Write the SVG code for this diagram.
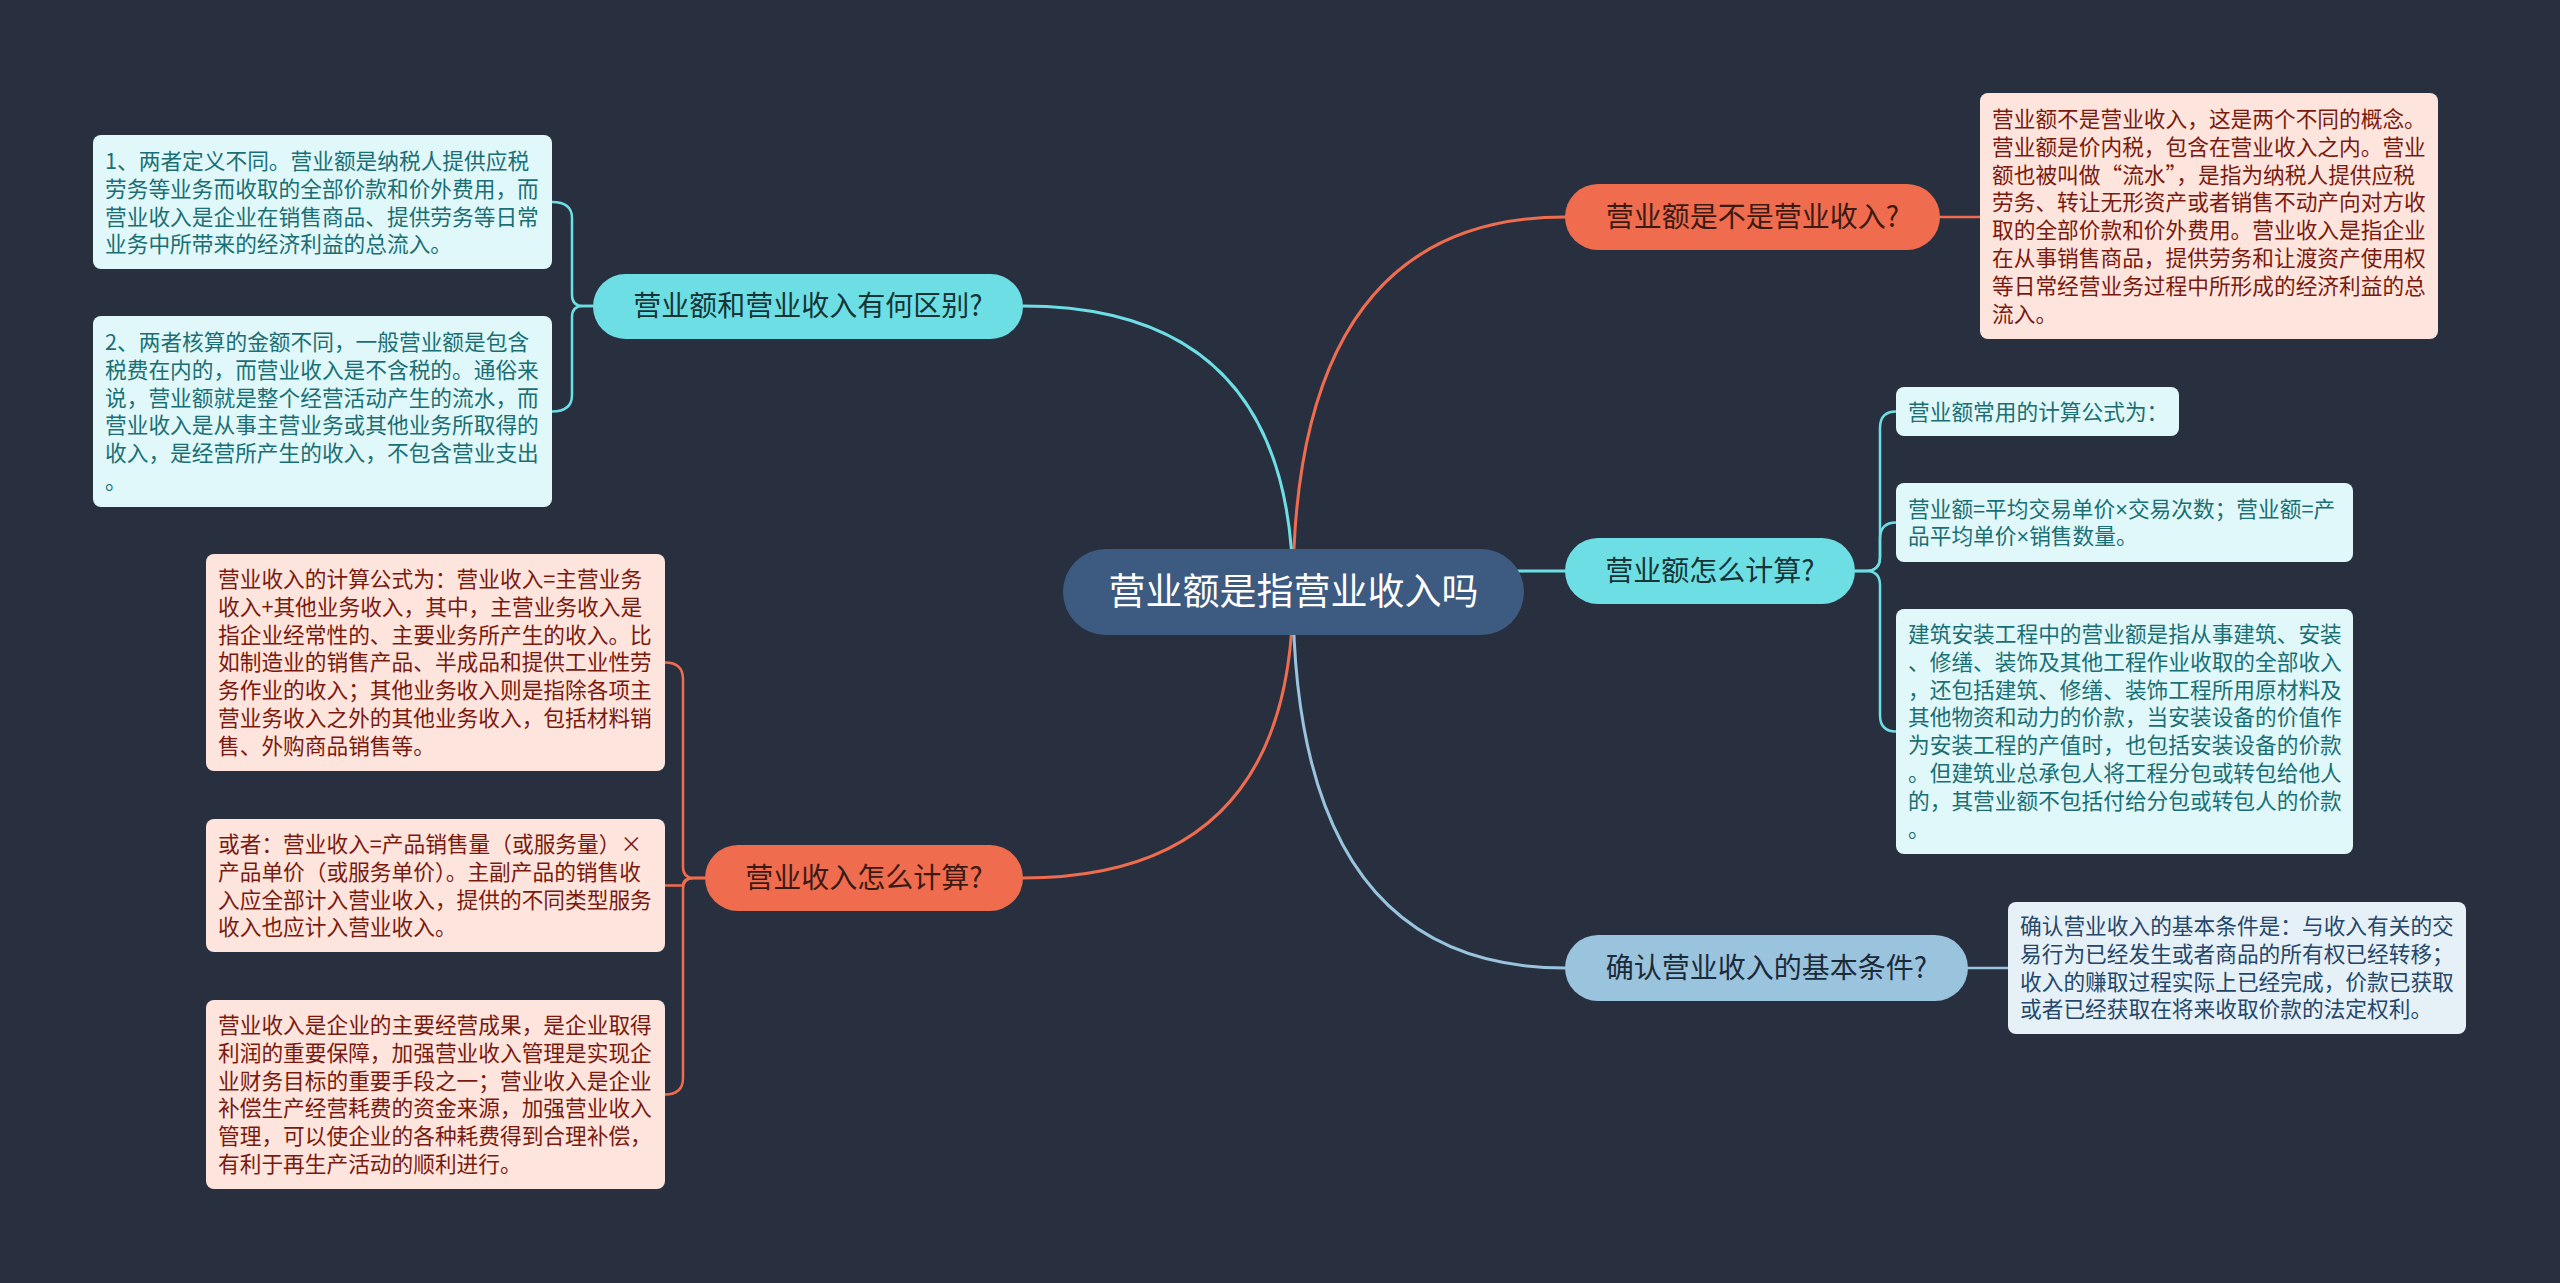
<svg xmlns="http://www.w3.org/2000/svg" width="2560" height="1283" viewBox="0 0 2560 1283">
<style>
text{font-family:"Noto Sans CJK SC","Noto Sans",sans-serif}
.conn{fill:none;stroke-width:3;stroke-linecap:round}
.sub{fill:none;stroke-width:2.5;stroke-linecap:round}
.o{stroke:#ef6c4e}.c{stroke:#6ddfe4}.b{stroke:#9ac3de}
.root rect{fill:#3d5a80}
.root text{fill:#ffffff;font-size:37px;text-anchor:middle}
.br text{font-size:28px;text-anchor:middle;fill:#1e2a2e}
.bo rect{fill:#ef6c4e}.bo text{fill:#3b1a14}
.bc rect{fill:#6ddfe4}.bc text{fill:#163436}
.bb rect{fill:#9ac3de}.bb text{fill:#1b2a38}
.lf text{font-size:21.7px}
.lo rect{fill:#fde4dd}.lo text{fill:#7a1a0e}
.lc rect{fill:#e0f8f9}.lc text{fill:#1a6f75}
.lb rect{fill:#e6f0f7}.lb text{fill:#24476a}
.x{font-family:"Liberation Sans",sans-serif}
</style>
<rect width="2560" height="1283" fill="#283040"/>
<g id="connectors">
<path class="conn o" d="M1293,592 Q1293,217 1565,217"/>
<path class="conn c" d="M1293,592 Q1293,306 1023,306"/>
<path class="conn c" d="M1480,571 H1565"/>
<path class="conn o" d="M1293,592 Q1293,878 1023,878"/>
<path class="conn b" d="M1293,592 Q1293,968 1565,968"/>
<path class="sub o" d="M1940,217 H1980"/>
<path class="sub b" d="M1968,968 H2008"/>
<path class="sub c" d="M1855,571 H1866 Q1880,571 1880,557 V428 Q1880,411.5 1896,411.5"/>
<path class="sub c" d="M1855,571 H1866 Q1880,571 1880,557 V539 Q1880,522.5 1896,522.5"/>
<path class="sub c" d="M1855,571 H1866 Q1880,571 1880,585 V715 Q1880,731.5 1896,731.5"/>
<path class="sub c" d="M593,306 H583 Q572,306 572,295 V218 Q572,202 552,202"/>
<path class="sub c" d="M593,306 H583 Q572,306 572,317 V395 Q572,411.5 552,411.5"/>
<path class="sub o" d="M705,878 H694 Q683,878 683,867 V679 Q683,662.5 665,662.5"/>
<path class="sub o" d="M705,878 H694 Q683,878 683,885.5 Q683,885.5 665,885.5"/>
<path class="sub o" d="M705,878 H694 Q683,878 683,889 V1078 Q683,1094.5 665,1094.5"/>
</g>
<g id="root" class="root">
<rect x="1063" y="549" width="461" height="86" rx="43"/>
<text x="1293.5" y="605">营业额是指营业收入吗</text>
</g>
<g id="b1" class="br bo">
<rect x="1565" y="184" width="375" height="66" rx="33"/>
<text x="1752.5" y="227">营业额是不是营业收入?</text>
</g>
<g id="b2" class="br bc">
<rect x="593" y="274" width="430" height="65" rx="32.5"/>
<text x="808" y="316">营业额和营业收入有何区别?</text>
</g>
<g id="b3" class="br bc">
<rect x="1565" y="538" width="290" height="66" rx="33"/>
<text x="1710" y="581">营业额怎么计算?</text>
</g>
<g id="b4" class="br bo">
<rect x="705" y="845" width="318" height="66" rx="33"/>
<text x="864" y="888">营业收入怎么计算?</text>
</g>
<g id="b5" class="br bb">
<rect x="1565" y="935" width="403" height="66" rx="33"/>
<text x="1766.5" y="978">确认营业收入的基本条件?</text>
</g>
<g id="leaf-l1" class="lf lc">
<rect x="93" y="135" width="459" height="134" rx="8"/>
<text x="105" y="169"><tspan x="105">1、两者定义不同。营业额是纳税人提供应税</tspan><tspan x="105" dy="27.8">劳务等业务而收取的全部价款和价外费用，而</tspan><tspan x="105" dy="27.8">营业收入是企业在销售商品、提供劳务等日常</tspan><tspan x="105" dy="27.8">业务中所带来的经济利益的总流入。</tspan></text>
</g>
<g id="leaf-l2" class="lf lc">
<rect x="93" y="316" width="459" height="191" rx="8"/>
<text x="105" y="350"><tspan x="105">2、两者核算的金额不同，一般营业额是包含</tspan><tspan x="105" dy="27.8">税费在内的，而营业收入是不含税的。通俗来</tspan><tspan x="105" dy="27.8">说，营业额就是整个经营活动产生的流水，而</tspan><tspan x="105" dy="27.8">营业收入是从事主营业务或其他业务所取得的</tspan><tspan x="105" dy="27.8">收入，是经营所产生的收入，不包含营业支出</tspan><tspan x="105" dy="27.8">。</tspan></text>
</g>
<g id="leaf-a" class="lf lo">
<rect x="206" y="554" width="459" height="217" rx="8"/>
<text x="218" y="587"><tspan x="218">营业收入的计算公式为：营业收入=主营业务</tspan><tspan x="218" dy="27.8">收入+其他业务收入，其中，主营业务收入是</tspan><tspan x="218" dy="27.8">指企业经常性的、主要业务所产生的收入。比</tspan><tspan x="218" dy="27.8">如制造业的销售产品、半成品和提供工业性劳</tspan><tspan x="218" dy="27.8">务作业的收入；其他业务收入则是指除各项主</tspan><tspan x="218" dy="27.8">营业务收入之外的其他业务收入，包括材料销</tspan><tspan x="218" dy="27.8">售、外购商品销售等。</tspan></text>
</g>
<g id="leaf-b" class="lf lo">
<rect x="206" y="819" width="459" height="133" rx="8"/>
<text x="218" y="852"><tspan x="218">或者：营业收入=产品销售量（或服务量）×</tspan><tspan x="218" dy="27.8">产品单价（或服务单价）。主副产品的销售收</tspan><tspan x="218" dy="27.8">入应全部计入营业收入，提供的不同类型服务</tspan><tspan x="218" dy="27.8">收入也应计入营业收入。</tspan></text>
</g>
<g id="leaf-c" class="lf lo">
<rect x="206" y="1000" width="459" height="189" rx="8"/>
<text x="218" y="1033"><tspan x="218">营业收入是企业的主要经营成果，是企业取得</tspan><tspan x="218" dy="27.8">利润的重要保障，加强营业收入管理是实现企</tspan><tspan x="218" dy="27.8">业财务目标的重要手段之一；营业收入是企业</tspan><tspan x="218" dy="27.8">补偿生产经营耗费的资金来源，加强营业收入</tspan><tspan x="218" dy="27.8">管理，可以使企业的各种耗费得到合理补偿，</tspan><tspan x="218" dy="27.8">有利于再生产活动的顺利进行。</tspan></text>
</g>
<g id="leaf-r0" class="lf lo">
<rect x="1980" y="93" width="458" height="246" rx="8"/>
<text x="1992" y="127"><tspan x="1992">营业额不是营业收入，这是两个不同的概念。</tspan><tspan x="1992" dy="27.8">营业额是价内税，包含在营业收入之内。营业</tspan><tspan x="1992" dy="27.8">额也被叫做“流水”，是指为纳税人提供应税</tspan><tspan x="1992" dy="27.8">劳务、转让无形资产或者销售不动产向对方收</tspan><tspan x="1992" dy="27.8">取的全部价款和价外费用。营业收入是指企业</tspan><tspan x="1992" dy="27.8">在从事销售商品，提供劳务和让渡资产使用权</tspan><tspan x="1992" dy="27.8">等日常经营业务过程中所形成的经济利益的总</tspan><tspan x="1992" dy="27.8">流入。</tspan></text>
</g>
<g id="leaf-r1" class="lf lc">
<rect x="1896" y="387" width="283" height="49" rx="8"/>
<text x="1908" y="419.5">营业额常用的计算公式为：</text>
</g>
<g id="leaf-r2" class="lf lc">
<rect x="1896" y="483" width="457" height="79" rx="8"/>
<text x="1908" y="516.5"><tspan x="1908">营业额=平均交易单价</tspan><tspan class="x">×</tspan><tspan>交易次数；营业额=产</tspan><tspan x="1908" dy="27.8">品平均单价</tspan><tspan class="x">×</tspan><tspan>销售数量。</tspan></text>
</g>
<g id="leaf-r3" class="lf lc">
<rect x="1896" y="609" width="457" height="245" rx="8"/>
<text x="1908" y="642"><tspan x="1908">建筑安装工程中的营业额是指从事建筑、安装</tspan><tspan x="1908" dy="27.8">、修缮、装饰及其他工程作业收取的全部收入</tspan><tspan x="1908" dy="27.8">，还包括建筑、修缮、装饰工程所用原材料及</tspan><tspan x="1908" dy="27.8">其他物资和动力的价款，当安装设备的价值作</tspan><tspan x="1908" dy="27.8">为安装工程的产值时，也包括安装设备的价款</tspan><tspan x="1908" dy="27.8">。但建筑业总承包人将工程分包或转包给他人</tspan><tspan x="1908" dy="27.8">的，其营业额不包括付给分包或转包人的价款</tspan><tspan x="1908" dy="27.8">。</tspan></text>
</g>
<g id="leaf-r4" class="lf lb">
<rect x="2008" y="902" width="458" height="132" rx="8"/>
<text x="2020" y="934"><tspan x="2020">确认营业收入的基本条件是：与收入有关的交</tspan><tspan x="2020" dy="27.8">易行为已经发生或者商品的所有权已经转移；</tspan><tspan x="2020" dy="27.8">收入的赚取过程实际上已经完成，价款已获取</tspan><tspan x="2020" dy="27.8">或者已经获取在将来收取价款的法定权利。</tspan></text>
</g>
</svg>
